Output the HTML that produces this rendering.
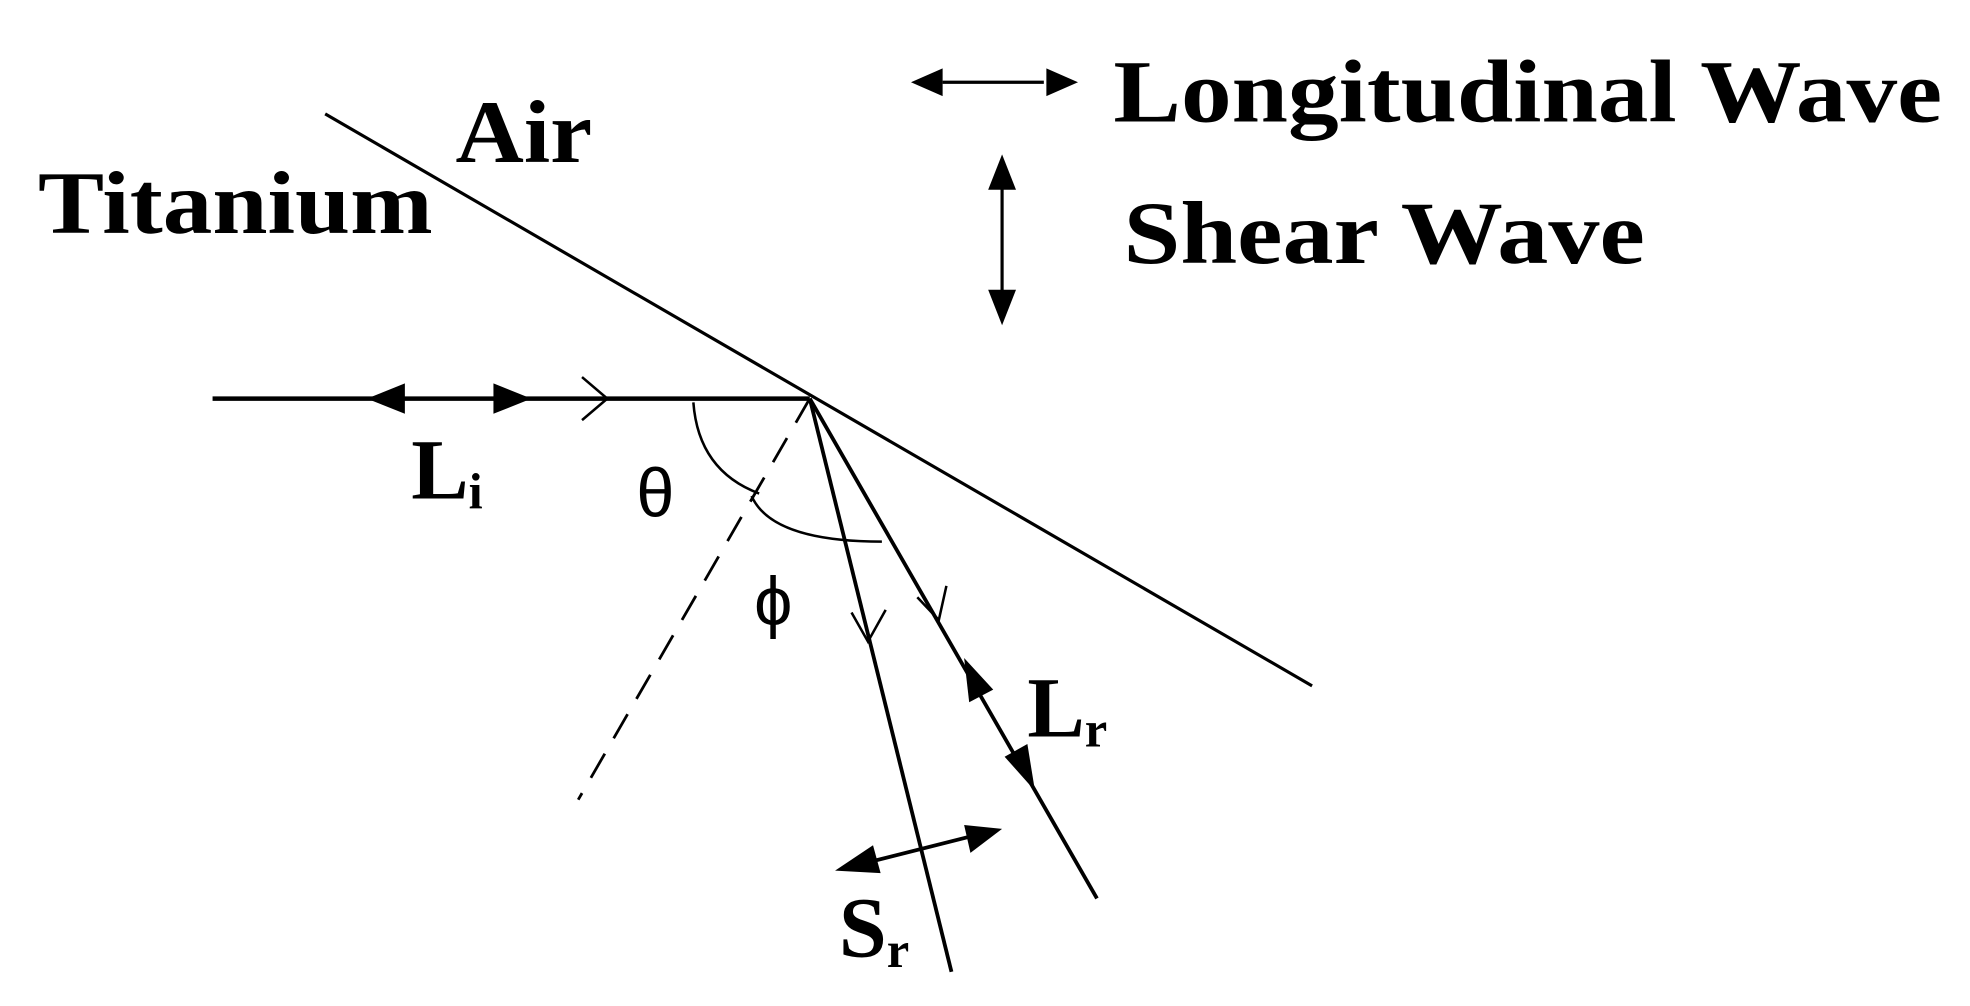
<!DOCTYPE html>
<html><head><style>html,body{margin:0;padding:0;background:#fff;}svg{display:block}
.t{font-family:"Liberation Serif","Times New Roman",serif;font-weight:bold;}
.g{font-family:"Liberation Sans",sans-serif;}</style></head>
<body>
<svg width="1970" height="1006" viewBox="0 0 1557 795" preserveAspectRatio="none" xmlns="http://www.w3.org/2000/svg">
<g stroke="#000" fill="none">
<line x1="257" y1="90" x2="1037" y2="542" stroke-width="2.5"/>
<line x1="168" y1="315" x2="640" y2="315" stroke-width="3.5"/>
<line x1="640" y1="315" x2="457" y2="632" stroke-width="2.2" stroke-dasharray="22,14"/>
<line x1="640" y1="315" x2="752" y2="768" stroke-width="3"/>
<line x1="640" y1="315" x2="867" y2="710" stroke-width="3"/>
<path d="M548,318 Q552,372 600,390" stroke-width="2"/>
<path d="M594,392 Q610,428 697,428" stroke-width="2"/>
<path d="M460,298 L480,315 L460,332" stroke-width="2"/>
<path d="M673,484 L686,507 L700,482" stroke-width="2"/>
<path d="M725,472 L742,490 L748,463" stroke-width="2"/>
</g>
<g fill="#000">
<polygon points="290,315 320,303 320,327"/>
<polygon points="420,315 390,303 390,327"/>
<polygon points="762,520 766,555 785,545"/>
<polygon points="818,625 794,598 812,588"/>
<polygon points="660,688 690,668 696,690"/>
<polygon points="792,655 762,652 767,674"/>
<line x1="680" y1="683" x2="775" y2="659" stroke="#000" stroke-width="3"/>
<line x1="745" y1="65" x2="825" y2="65" stroke="#000" stroke-width="2.5"/>
<polygon points="720,65 745,54 745,76"/>
<polygon points="852,65 827,54 827,76"/>
<line x1="792" y1="148" x2="792" y2="232" stroke="#000" stroke-width="2.5"/>
<polygon points="792,122 781,150 803,150"/>
<polygon points="792,257 781,229 803,229"/>
</g>
<g class="t" fill="#000">
<text x="880" y="96" font-size="70" textLength="655" lengthAdjust="spacingAndGlyphs">Longitudinal Wave</text>
<text x="888" y="208" font-size="70" textLength="412" lengthAdjust="spacingAndGlyphs">Shear Wave</text>
<text x="30" y="184" font-size="70" textLength="312" lengthAdjust="spacingAndGlyphs">Titanium</text>
<text x="360" y="128" font-size="70" textLength="108" lengthAdjust="spacingAndGlyphs">Air</text>
<text x="325" y="394" font-size="68">L<tspan font-size="40" dy="8">i</tspan></text>
<text x="812" y="582" font-size="68">L<tspan font-size="40" dy="8">r</tspan></text>
<text x="663" y="756" font-size="68">S<tspan font-size="40" dy="8">r</tspan></text>
</g>
<g class="g" fill="#000">
<text x="503" y="408" font-size="54">θ</text>
<text x="596" y="494" font-size="54">ϕ</text>
</g>
</svg>
</body></html>
